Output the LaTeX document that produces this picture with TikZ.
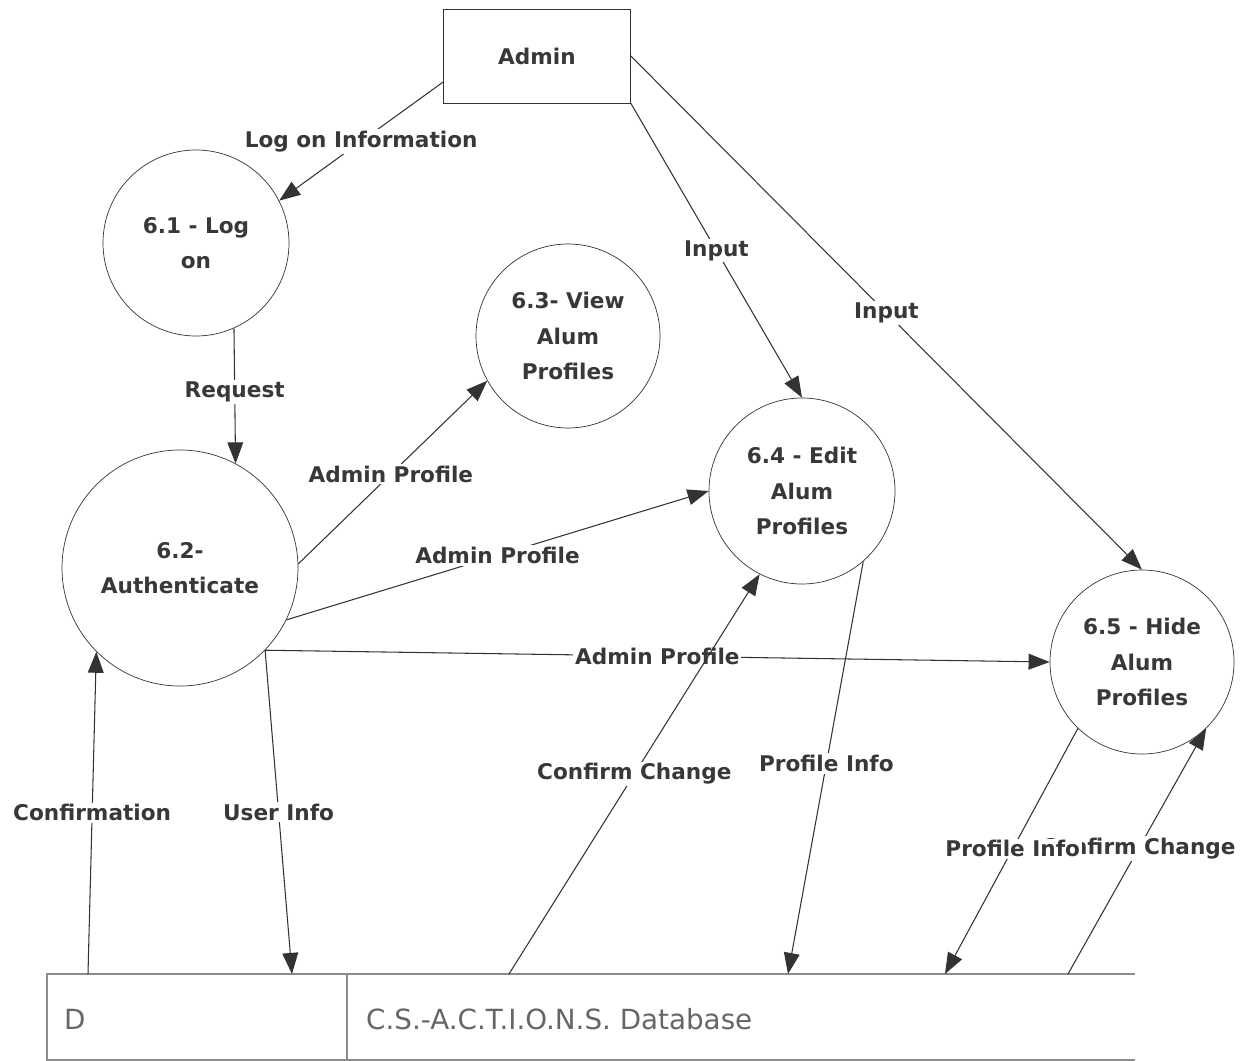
\documentclass[tikz,border=0pt]{standalone}
\usepackage{fontspec}
\setmainfont{DejaVu Sans}
\usetikzlibrary{arrows.meta}
\tikzset{
    PR/.style ={circle,minimum size=#1,inner sep=0pt,draw=black!80,align=center,text=black!78,font=\bfseries\fontsize{12.3}{20}\selectfont},
    EN/.style ={rectangle,minimum width=3.74cm,minimum height=1.88cm,draw=black!80,text=black!78,font=\bfseries\fontsize{12.3}{20}\selectfont},
    FL/.style ={draw=black!80,line width=0.6pt,-{Triangle[length=12pt,width=9pt]}},
    LB/.style ={fill=white,inner sep=1pt,text=black!78,font=\bfseries\fontsize{12.3}{15}\selectfont},
    DS/.style ={draw=black!45,line width=0.8pt},
    DT/.style ={anchor=west,text=black!60,font=\fontsize{15.8}{18}\selectfont}}
\begin{document}
\begin{tikzpicture}
        \useasboundingbox (0,0) rectangle (25,-21.22);
        \node[EN] (1) at(10.74,-1.12){Admin};
        \node[PR=3.72cm] (2) at(3.92,-4.86){6.1 - Log\\on};
        \node[PR=4.72cm] (3) at(3.6,-11.36){6.2-\\Authenticate};
        \node[PR=3.68cm] (4) at(11.36,-6.72){6.3- View\\Alum\\Profiles};
        \node[PR=3.72cm] (5) at(16.04,-9.82){6.4 - Edit\\Alum\\Profiles};
        \node[PR=3.68cm] (6) at(22.84,-13.24){6.5 - Hide\\Alum\\Profiles};
        % data store
        \draw[DS] (22.7,-19.48) -- (0.94,-19.48) -- (0.94,-21.2) -- (22.7,-21.2);
        \draw[DS] (6.94,-19.48) -- (6.94,-21.2);
        \node[DT] (d) at(1.16,-20.38){D};
        \node[DT] (db) at(7.2,-20.38){C.S.-A.C.T.I.O.N.S. Database};
        \coordinate (s1) at(1.76,-19.48);
        \coordinate (s2) at(5.84,-19.48);
        \coordinate (s3) at(10.18,-19.48);
        \coordinate (s4) at(15.76,-19.48);
        \coordinate (s5) at(18.9,-19.48);
        \coordinate (s6) at(21.36,-19.48);
        % flows
        \draw[FL] ([yshift=-0.52cm]1.west) --(2.27) node[LB,pos=.5]{Log on Information};
        \draw[FL] (2.-66) --(3.62) node[LB,pos=.47]{Request};
        \draw[FL] (3.2) --(4.209) node[LB,pos=.49]{Admin Profile};
        \draw[FL] (3.-26) --(5.180) node[LB,pos=.5]{Admin Profile};
        \draw[FL] (3.-44) --(6.180) node[LB,pos=.5]{Admin Profile};
        \draw[FL] (1.south east) --(5.north) node[LB,pos=.5]{Input};
        \draw[FL] (1.east) --(6.north) node[LB,pos=.5]{Input};
        \draw[FL] (s1) --(3.225) node[LB,pos=.5]{Confirmation};
        \draw[FL] (3.-44) --(s2) node[LB,pos=.5]{User Info};
        \draw[FL] (s3) --(5.243) node[LB,pos=.5]{Confirm Change};
        \draw[FL] (5.-49) --(s4) node[LB,pos=.49]{Profile Info};
        \draw[FL] (s6) --(6.-46) node[LB,pos=.51]{Confirm Change};
        \draw[FL] (6.226) --(s5) node[LB,pos=.49]{Profile Info};
    \end{tikzpicture}
\end{document}
